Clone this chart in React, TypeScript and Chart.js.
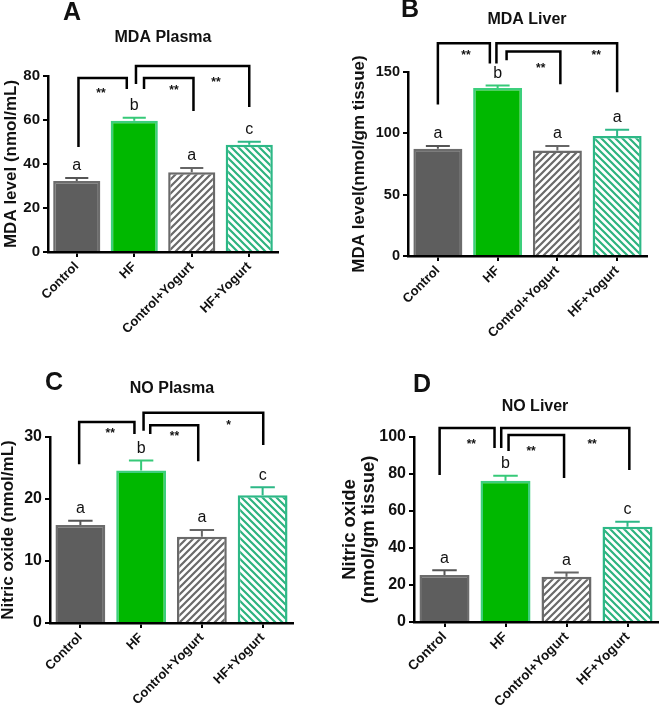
import React, { useEffect, useRef } from 'react';
import { Chart, registerables } from 'chart.js';

Chart.register(...registerables);

const FONT = "'Liberation Sans', Arial, sans-serif";

const categories = ['Control', 'HF', 'Control+Yogurt', 'HF+Yogurt'];

// Panel A: MDA Plasma
const mdaPlasmaMeans = [32.3, 59.7, 36.2, 48.7];
const mdaPlasmaErrors = [1.3, 1.3, 2.0, 1.4];
const mdaPlasmaLetters = ['a', 'b', 'a', 'c'];
// [leftPos, rightPos, topValue, leftEndValue, rightEndValue, label, labelPos, labelValue]
const mdaPlasmaBrackets: any[] = [
  [0.03, 0.87, 79.1, 47.7, 74.1, '**', 0.42, 73.3],
  [1.03, 3.0, 84.5, 76.4, 65.9, '**', 2.42, 78.2],
  [1.17, 2.03, 79.1, 74.1, 64.1, '**', 1.69, 74.5],
];

// Panel B: MDA Liver
const mdaLiverMeans = [87.5, 137, 86, 97.8];
const mdaLiverErrors = [2.2, 2.0, 3.7, 5.2];
const mdaLiverLetters = ['a', 'b', 'a', 'a'];
const mdaLiverBrackets: any[] = [
  [0.0, 0.87, 173.4, 123.6, 157, '**', 0.47, 166],
  [0.98, 3.0, 173.4, 157, 133.4, '**', 2.65, 166],
  [1.15, 2.05, 166.8, 159.5, 140, '**', 1.72, 155.4],
];

// Panel C: NO Plasma
const noPlasmaMeans = [15.8, 24.6, 13.9, 20.6];
const noPlasmaErrors = [0.7, 1.6, 1.1, 1.3];
const noPlasmaLetters = ['a', 'b', 'a', 'c'];
const noPlasmaBrackets: any[] = [
  [-0.02, 0.89, 32.4, 25.6, 30.5, '**', 0.49, 31.0],
  [1.04, 3.01, 33.9, 31.0, 28.7, '*', 2.44, 32.3],
  [1.15, 1.94, 31.9, 30.5, 26.1, '**', 1.55, 30.6],
];

// Panel D: NO Liver
const noLiverMeans = [25.4, 76.4, 24.5, 51.5];
const noLiverErrors = [2.6, 2.6, 2.3, 2.7];
const noLiverLetters = ['a', 'b', 'a', 'c'];
const noLiverBrackets: any[] = [
  [-0.08, 0.82, 104.9, 79.5, 94, '**', 0.44, 97.3],
  [0.93, 3.03, 104.9, 94, 82.2, '**', 2.42, 97.3],
  [1.05, 1.96, 101.1, 92.4, 77.8, '**', 1.42, 93.5],
];

const panels = [
  {
    key: 'A', title: 'MDA Plasma', means: mdaPlasmaMeans, errors: mdaPlasmaErrors, letters: mdaPlasmaLetters,
    brackets: mdaPlasmaBrackets, yMax: 80, yStep: 20, yTitle: 'MDA level (nmol/mL)' as any,
    box: { left: 0, top: 0, w: 330, h: 340 }, yWidth: 48, xHeight: 88, padTop: 76, padRight: 52,
    yTitlePad: 1, yTitleSize: 17, yTitleLH: 1.2, tickSize: 15, xTickSize: 13, letterPos: [72, 13], titlePos: [163, 38],
  },
  {
    key: 'B', title: 'MDA Liver', means: mdaLiverMeans, errors: mdaLiverErrors, letters: mdaLiverLetters,
    brackets: mdaLiverBrackets, yMax: 150, yStep: 50, yTitle: 'MDA level(nmol/gm tissue)' as any,
    box: { left: 330, top: 0, w: 330, h: 340 }, yWidth: 78, xHeight: 84, padTop: 72, padRight: 13,
    yTitlePad: 19, yTitleSize: 17, yTitleLH: 1.2, tickSize: 14.5, xTickSize: 13, letterPos: [80, 10], titlePos: [197, 20],
  },
  {
    key: 'C', title: 'NO Plasma', means: noPlasmaMeans, errors: noPlasmaErrors, letters: noPlasmaLetters,
    brackets: noPlasmaBrackets, yMax: 30, yStep: 10, yTitle: 'Nitric oxide (nmol/mL)' as any,
    box: { left: 0, top: 340, w: 330, h: 368 }, yWidth: 50, xHeight: 85, padTop: 97, padRight: 37,
    yTitlePad: -2, yTitleSize: 17, yTitleLH: 1.2, tickSize: 16, xTickSize: 13, letterPos: [54, 43], titlePos: [172, 49],
  },
  {
    key: 'D', title: 'NO Liver', means: noLiverMeans, errors: noLiverErrors, letters: noLiverLetters,
    brackets: noLiverBrackets, yMax: 100, yStep: 20, yTitle: ['Nitric oxide', '(nmol/gm tissue)'] as any,
    box: { left: 330, top: 340, w: 330, h: 368 }, yWidth: 84, xHeight: 86, padTop: 97, padRight: 2,
    yTitlePad: 10.5, yTitleSize: 18.5, yTitleLH: 1.03, tickSize: 16, xTickSize: 13.5, letterPos: [92, 45], titlePos: [205, 67],
  },
];

const solidFills = ['#5e5e5e', '#00b800'];
const borderColors = ['#6c6c6c', '#3ccf7c', '#6a6a6a', '#2db886'];
const errorColors = ['#555555', '#36c978', '#666666', '#2db886'];

function makeHatch(color: string, forward: boolean) {
  const s = 7;
  const c = document.createElement('canvas');
  c.width = s; c.height = s;
  const g = c.getContext('2d')!;
  g.fillStyle = '#ffffff';
  g.fillRect(0, 0, s, s);
  g.strokeStyle = color;
  g.lineWidth = 2.2;
  g.beginPath();
  if (forward) {
    g.moveTo(-1, s + 1); g.lineTo(s + 1, -1);
    g.moveTo(-1, 1); g.lineTo(1, -1);
    g.moveTo(s - 1, s + 1); g.lineTo(s + 1, s - 1);
  } else {
    g.moveTo(-1, -1); g.lineTo(s + 1, s + 1);
    g.moveTo(s - 1, -1); g.lineTo(s + 1, 1);
    g.moveTo(-1, s - 1); g.lineTo(1, s + 1);
  }
  g.stroke();
  return g.createPattern(c, 'repeat')!;
}

function makeAnnotPlugin(p: any) {
  return {
    id: 'annot' + p.key,
    afterDatasetsDraw(chart: any) {
      const ctx = chart.ctx;
      const xs = chart.scales.x;
      const ys = chart.scales.y;
      const meta = chart.getDatasetMeta(0);
      const x0 = xs.getPixelForValue(0);
      const step = xs.getPixelForValue(1) - x0;
      const px = (pos: number) => x0 + pos * step;
      ctx.save();
      // error bars + letters
      p.means.forEach((m: number, i: number) => {
        const bar = meta.data[i];
        const cx = bar.x;
        const top = ys.getPixelForValue(m);
        const et = ys.getPixelForValue(m + p.errors[i]);
        const half = bar.width * 0.245;
        ctx.strokeStyle = errorColors[i];
        ctx.lineWidth = 2;
        ctx.beginPath();
        ctx.moveTo(cx, top);
        ctx.lineTo(cx, et);
        ctx.moveTo(cx - half, et);
        ctx.lineTo(cx + half, et);
        ctx.stroke();
        ctx.fillStyle = '#111';
        ctx.font = `16px ${FONT}`;
        ctx.textAlign = 'center';
        ctx.textBaseline = 'middle';
        ctx.fillText(p.letters[i], cx, et - 12);
      });
      // brackets
      p.brackets.forEach((b: any[]) => {
        const [l, r, topV, lEnd, rEnd, label, lp, lv] = b;
        ctx.strokeStyle = '#000';
        ctx.lineWidth = 2.5;
        ctx.lineJoin = 'miter';
        ctx.beginPath();
        ctx.moveTo(px(l), ys.getPixelForValue(lEnd));
        ctx.lineTo(px(l), ys.getPixelForValue(topV));
        ctx.lineTo(px(r), ys.getPixelForValue(topV));
        ctx.lineTo(px(r), ys.getPixelForValue(rEnd));
        ctx.stroke();
        ctx.fillStyle = '#111';
        ctx.font = `bold 12px ${FONT}`;
        ctx.textAlign = 'center';
        ctx.textBaseline = 'middle';
        ctx.fillText(label, px(lp), ys.getPixelForValue(lv) + 3);
      });
      ctx.restore();
    },
    afterDraw(chart: any) {
      const ctx = chart.ctx;
      ctx.save();
      ctx.fillStyle = '#111';
      ctx.textAlign = 'center';
      ctx.textBaseline = 'middle';
      ctx.font = `bold 25px ${FONT}`;
      ctx.fillText(p.key, p.letterPos[0], p.letterPos[1]);
      ctx.font = `bold 16px ${FONT}`;
      ctx.fillText(p.title, p.titlePos[0], p.titlePos[1]);
      ctx.restore();
    },
  };
}

function Panel({ p }: { p: any }) {
  const ref = useRef<HTMLCanvasElement>(null);
  useEffect(() => {
    const canvas = ref.current!;
    const fills = [solidFills[0], solidFills[1], makeHatch('#6a6a6a', true), makeHatch('#2db37f', false)];
    const chart = new Chart(canvas, {
      type: 'bar',
      data: {
        labels: categories,
        datasets: [
          {
            data: p.means,
            backgroundColor: fills as any,
            borderColor: borderColors,
            borderWidth: 2.5,
            borderSkipped: 'start',
            categoryPercentage: 1,
            barPercentage: 0.82,
          },
        ],
      },
      options: {
        responsive: false,
        animation: false,
        devicePixelRatio: 1,
        layout: { padding: { top: p.padTop, right: p.padRight, left: 0, bottom: 0 } },
        plugins: { legend: { display: false }, tooltip: { enabled: false }, title: { display: false } },
        scales: {
          x: {
            offset: true,
            ticks: {
              minRotation: 45, maxRotation: 45, autoSkip: false, padding: 2,
              font: { family: FONT, size: p.xTickSize, weight: 'bold' }, color: '#111',
            },
            grid: { display: true, drawOnChartArea: false, drawTicks: true, tickLength: 5, color: '#000', lineWidth: 2, offset: false },
            border: { display: true, color: '#000', width: 2.5 },
            afterFit: (s: any) => { s.height = p.xHeight; },
          },
          y: {
            min: 0, max: p.yMax,
            ticks: { stepSize: p.yStep, padding: 3, font: { family: FONT, size: p.tickSize, weight: 'bold' }, color: '#111' },
            grid: { display: true, drawOnChartArea: false, drawTicks: true, tickLength: 5, color: '#000', lineWidth: 2 },
            border: { display: true, color: '#000', width: 2.5 },
            title: {
              display: true, text: p.yTitle, color: '#111',
              font: { family: FONT, size: p.yTitleSize, weight: 'bold', lineHeight: p.yTitleLH },
              padding: { top: p.yTitlePad, bottom: 0 },
            },
            afterFit: (s: any) => { s.width = p.yWidth; },
          },
        },
      } as any,
      plugins: [makeAnnotPlugin(p)],
    });
    return () => chart.destroy();
  }, [p]);
  return (
    <canvas
      ref={ref}
      width={p.box.w}
      height={p.box.h}
      style={{ position: 'absolute', left: p.box.left, top: p.box.top, width: p.box.w, height: p.box.h }}
    />
  );
}

export default function App() {
  return (
    <div style={{ position: 'fixed', left: 0, top: 0, width: 660, height: 708, background: '#ffffff', overflow: 'hidden' }}>
      {panels.map((p) => (
        <Panel key={p.key} p={p} />
      ))}
    </div>
  );
}
